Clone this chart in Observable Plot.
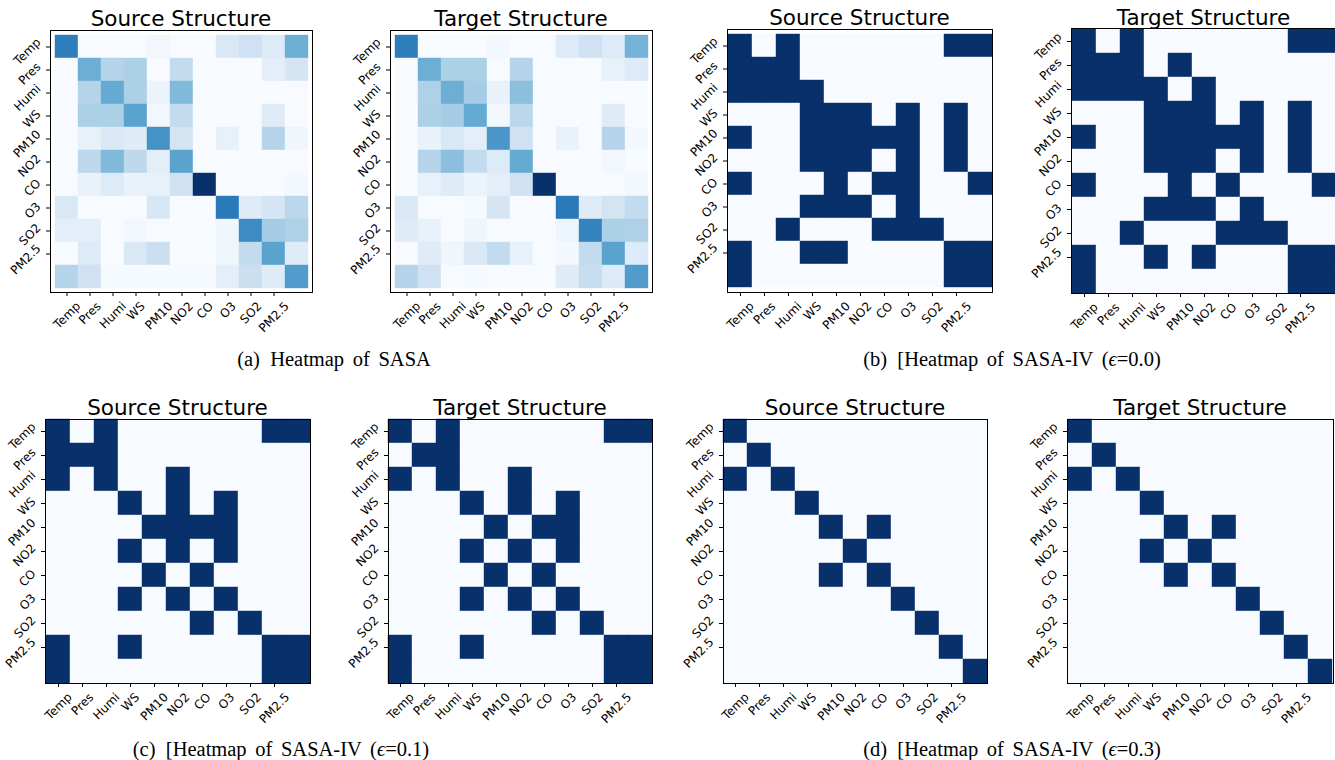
<!DOCTYPE html>
<html><head><meta charset="utf-8">
<script src="https://cdn.jsdelivr.net/npm/d3@7"></script>
<script src="https://cdn.jsdelivr.net/npm/@observablehq/plot@0.6"></script>
<style>
body{margin:0;background:#fff}
#wrap{position:relative;width:1335px;height:760px;overflow:hidden;background:#fff}
#wrap svg{position:absolute;overflow:visible}
</style>
</head><body><div id="wrap"></div>
<script>
// ---------- data ----------
const labels = ["Temp","Pres","Humi","WS","PM10","NO2","CO","O3","SO2","PM2.5"];
const cellCount = 11;

const sasaSource = [
  [0.70,0.00,0.00,0.00,0.03,0.00,0.00,0.15,0.20,0.13,0.50],
  [0.00,0.50,0.30,0.33,0.00,0.25,0.00,0.00,0.00,0.10,0.17],
  [0.00,0.30,0.52,0.33,0.06,0.45,0.00,0.00,0.00,0.00,0.00],
  [0.00,0.33,0.33,0.55,0.03,0.25,0.00,0.00,0.00,0.12,0.00],
  [0.00,0.08,0.14,0.12,0.62,0.18,0.00,0.08,0.00,0.30,0.04],
  [0.00,0.27,0.45,0.27,0.10,0.55,0.00,0.00,0.00,0.00,0.00],
  [0.00,0.07,0.13,0.07,0.08,0.20,1.00,0.00,0.00,0.00,0.02],
  [0.15,0.00,0.00,0.00,0.16,0.00,0.00,0.72,0.12,0.17,0.28],
  [0.10,0.10,0.00,0.03,0.00,0.00,0.00,0.04,0.65,0.35,0.32],
  [0.00,0.13,0.00,0.15,0.22,0.00,0.00,0.04,0.25,0.55,0.12],
  [0.30,0.20,0.01,0.01,0.01,0.01,0.01,0.10,0.22,0.12,0.58]
];
const sasaTarget = [
  [0.70,0.00,0.00,0.00,0.02,0.00,0.00,0.13,0.20,0.13,0.48],
  [0.00,0.50,0.33,0.33,0.00,0.30,0.00,0.00,0.00,0.08,0.13],
  [0.00,0.32,0.50,0.35,0.07,0.42,0.00,0.00,0.00,0.00,0.00],
  [0.00,0.33,0.35,0.52,0.03,0.28,0.00,0.00,0.00,0.12,0.00],
  [0.00,0.07,0.15,0.10,0.60,0.20,0.00,0.07,0.00,0.30,0.02],
  [0.00,0.30,0.42,0.25,0.13,0.52,0.00,0.00,0.00,0.03,0.00],
  [0.00,0.08,0.12,0.06,0.10,0.20,1.00,0.00,0.00,0.00,0.02],
  [0.15,0.00,0.00,0.01,0.17,0.00,0.00,0.72,0.12,0.18,0.25],
  [0.12,0.08,0.00,0.04,0.00,0.00,0.00,0.05,0.68,0.33,0.32],
  [0.00,0.12,0.04,0.15,0.25,0.08,0.00,0.02,0.25,0.55,0.13],
  [0.30,0.20,0.00,0.01,0.00,0.00,0.00,0.12,0.23,0.13,0.58]
];
const eps00Source = [
  [1,0,1,0,0,0,0,0,0,1,1],
  [1,1,1,0,0,0,0,0,0,0,0],
  [1,1,1,1,0,0,0,0,0,0,0],
  [0,0,0,1,1,1,0,1,0,1,0],
  [1,0,0,1,1,1,1,1,0,1,0],
  [0,0,0,1,1,1,0,1,0,1,0],
  [1,0,0,0,1,0,1,1,0,0,1],
  [0,0,0,1,1,1,0,1,0,0,0],
  [0,0,1,0,0,0,1,1,1,0,0],
  [1,0,0,1,1,0,0,0,0,1,1],
  [1,0,0,0,0,0,0,0,0,1,1]
];
const eps00Target = [
  [1,0,1,0,0,0,0,0,0,1,1],
  [1,1,1,0,1,0,0,0,0,0,0],
  [1,1,1,1,0,1,0,0,0,0,0],
  [0,0,0,1,1,1,0,1,0,1,0],
  [1,0,0,1,1,1,1,1,0,1,0],
  [0,0,0,1,1,1,0,1,0,1,0],
  [1,0,0,0,1,0,1,0,0,0,1],
  [0,0,0,1,1,1,0,1,0,0,0],
  [0,0,1,0,0,0,1,1,1,0,0],
  [1,0,0,1,0,1,0,0,0,1,1],
  [1,0,0,0,0,0,0,0,0,1,1]
];
const eps01Source = [
  [1,0,1,0,0,0,0,0,0,1,1],
  [1,1,1,0,0,0,0,0,0,0,0],
  [1,0,1,0,0,1,0,0,0,0,0],
  [0,0,0,1,0,1,0,1,0,0,0],
  [0,0,0,0,1,1,1,1,0,0,0],
  [0,0,0,1,0,1,0,1,0,0,0],
  [0,0,0,0,1,0,1,0,0,0,0],
  [0,0,0,1,0,1,0,1,0,0,0],
  [0,0,0,0,0,0,1,0,1,0,0],
  [1,0,0,1,0,0,0,0,0,1,1],
  [1,0,0,0,0,0,0,0,0,1,1]
];
const eps01Target = [
  [1,0,1,0,0,0,0,0,0,1,1],
  [0,1,1,0,0,0,0,0,0,0,0],
  [1,0,1,0,0,1,0,0,0,0,0],
  [0,0,0,1,0,1,0,1,0,0,0],
  [0,0,0,0,1,0,1,1,0,0,0],
  [0,0,0,1,0,1,0,1,0,0,0],
  [0,0,0,0,1,0,1,0,0,0,0],
  [0,0,0,1,0,1,0,1,0,0,0],
  [0,0,0,0,0,0,1,0,1,0,0],
  [1,0,0,1,0,0,0,0,0,1,1],
  [1,0,0,0,0,0,0,0,0,1,1]
];
const eps03Source = [
  [1,0,0,0,0,0,0,0,0,0,0],
  [0,1,0,0,0,0,0,0,0,0,0],
  [1,0,1,0,0,0,0,0,0,0,0],
  [0,0,0,1,0,0,0,0,0,0,0],
  [0,0,0,0,1,0,1,0,0,0,0],
  [0,0,0,0,0,1,0,0,0,0,0],
  [0,0,0,0,1,0,1,0,0,0,0],
  [0,0,0,0,0,0,0,1,0,0,0],
  [0,0,0,0,0,0,0,0,1,0,0],
  [0,0,0,0,0,0,0,0,0,1,0],
  [0,0,0,0,0,0,0,0,0,0,1]
];
const eps03Target = [
  [1,0,0,0,0,0,0,0,0,0,0],
  [0,1,0,0,0,0,0,0,0,0,0],
  [1,0,1,0,0,0,0,0,0,0,0],
  [0,0,0,1,0,0,0,0,0,0,0],
  [0,0,0,0,1,0,1,0,0,0,0],
  [0,0,0,1,0,1,0,0,0,0,0],
  [0,0,0,0,1,0,1,0,0,0,0],
  [0,0,0,0,0,0,0,1,0,0,0],
  [0,0,0,0,0,0,0,0,1,0,0],
  [0,0,0,0,0,0,0,0,0,1,0],
  [0,0,0,0,0,0,0,0,0,0,1]
];

const panelTitles = ["Source Structure", "Target Structure"];
const captions = [
  {tag: "(a)", text: "Heatmap of SASA", eps: null},
  {tag: "(b)", text: "[Heatmap of SASA-IV", eps: "0.0"},
  {tag: "(c)", text: "[Heatmap of SASA-IV", eps: "0.1"},
  {tag: "(d)", text: "[Heatmap of SASA-IV", eps: "0.3"}
];

// ---------- layout ----------
const panels = [
  {m: sasaSource,  t: 0, left: 50,   top: 30,  w: 262, h: 262, tb: 26},
  {m: sasaTarget,  t: 1, left: 390,  top: 30,  w: 262, h: 262, tb: 26},
  {m: eps00Source, t: 0, left: 727,  top: 29,  w: 265, h: 263, tb: 25},
  {m: eps00Target, t: 1, left: 1071, top: 28,  w: 265, h: 265, tb: 25},
  {m: eps01Source, t: 0, left: 45,   top: 419, w: 265, h: 264, tb: 415},
  {m: eps01Target, t: 1, left: 388,  top: 419, w: 264, h: 264, tb: 415},
  {m: eps03Source, t: 0, left: 723,  top: 419, w: 264, h: 264, tb: 415},
  {m: eps03Target, t: 1, left: 1067, top: 419, w: 266, h: 264, tb: 415}
];
const captionPos = [
  {cx: 334, base: 366}, {cx: 1012, base: 366},
  {cx: 281, base: 756}, {cx: 1012, base: 756}
];

const wrap = document.getElementById("wrap");
const fs = 12, tickLen = 4, pad = 3.5;
const ctx = document.createElement("canvas").getContext("2d");
ctx.font = fs + "px 'DejaVu Sans'";
const measure = s => ctx.measureText(s).width;
const idx = d3.range(cellCount);
const tickIdx = d3.range(labels.length);

function drawPanel(p) {
  const mL = 70, mB = 70, mT = 4, mR = 4;
  const data = [];
  p.m.forEach((row, r) => row.forEach((v, c) => data.push({r, c, v})));
  const textMarks = [];
  labels.forEach((lab, i) => {
    const L = measure(lab);
    const bb = (L + fs) * Math.SQRT1_2;
    textMarks.push(Plot.text([{i, lab}], {x: "i", text: "lab", frameAnchor: "bottom",
      dy: tickLen + pad + bb / 2, rotate: -45, textAnchor: "middle", lineAnchor: "middle", fontSize: fs}));
    textMarks.push(Plot.text([{i, lab}], {y: "i", text: "lab", frameAnchor: "left",
      dx: -(tickLen + pad + bb / 2), dy: 0.15 * L, rotate: -45, textAnchor: "middle", lineAnchor: "middle", fontSize: fs}));
  });
  const chart = Plot.plot({
    width: p.w + mL + mR, height: p.h + mT + mB,
    marginLeft: mL, marginRight: mR, marginTop: mT, marginBottom: mB,
    x: {type: "band", domain: idx, padding: 0, label: null},
    y: {type: "band", domain: idx, padding: 0, label: null},
    color: {type: "linear", scheme: "blues", domain: [0, 1]},
    style: {fontFamily: "'DejaVu Sans'", fontSize: fs + "px", color: "black", background: "transparent", overflow: "visible"},
    marks: [
      Plot.cell(data, {x: "c", y: "r", fill: "v", stroke: "v", strokeWidth: 0.4}),
      Plot.frame({stroke: "black", strokeWidth: 1}),
      Plot.axisX({ticks: tickIdx, tickSize: tickLen, tickFormat: () => "", label: null, anchor: "bottom"}),
      Plot.axisY({ticks: tickIdx, tickSize: tickLen, tickFormat: () => "", label: null, anchor: "left"}),
      ...textMarks
    ]
  });
  chart.style.left = (p.left - mL) + "px";
  chart.style.top = (p.top - mT) + "px";
  wrap.appendChild(chart);
}
panels.forEach(drawPanel);

// ---------- titles and captions ----------
const overlay = d3.select(wrap).append("svg")
  .attr("width", 1335).attr("height", 760)
  .style("left", "0px").style("top", "0px").style("pointer-events", "none");
panels.forEach(p => {
  overlay.append("text")
    .attr("x", p.left + p.w / 2).attr("y", p.tb)
    .attr("text-anchor", "middle")
    .style("font-family", "'DejaVu Sans'").style("font-size", "21.5px").attr("fill", "black")
    .text(panelTitles[p.t]);
});
captions.forEach((c, k) => {
  const t = overlay.append("text")
    .attr("x", captionPos[k].cx).attr("y", captionPos[k].base)
    .attr("text-anchor", "middle")
    .style("font-family", "'Liberation Serif'").style("font-size", "20.5px")
    .style("word-spacing", "3.5px").attr("fill", "black");
  t.append("tspan").text(c.tag + "\u2002" + c.text);
  if (c.eps !== null) {
    t.append("tspan").text(" (");
    t.append("tspan").style("font-style", "italic").text("\u03F5");
    t.append("tspan").text("=" + c.eps + ")");
  }
});
</script></body></html>
